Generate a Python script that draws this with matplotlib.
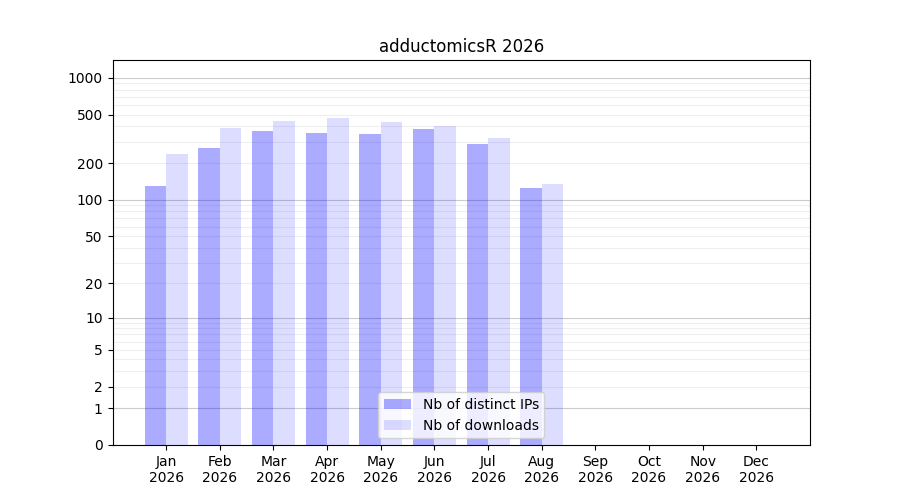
import numpy as np
import matplotlib
matplotlib.use('Agg')
import matplotlib.pyplot as plt


# Dati (mesi senza dati = 0)
mesi = ['Jan', 'Feb', 'Mar', 'Apr', 'May', 'Jun',
        'Jul', 'Aug', 'Sep', 'Oct', 'Nov', 'Dec']
anno = 2026
n_ip = [131, 264, 364, 357, 344, 385, 290, 124, 0, 0, 0, 0]
n_down = [240, 392, 447, 465, 439, 407, 319, 134, 0, 0, 0, 0]

ytick_vals = [0, 1, 2, 5, 10, 20, 50, 100, 200, 500, 1000]


def fwd(v):
    return np.log10(1 + np.clip(v, 0, None))


def inv(y):
    return 10**y - 1


fig, ax = plt.subplots(figsize=(9, 5), dpi=100)
ax.set_yscale('function', functions=(fwd, inv))

x = np.arange(len(mesi))
w = 0.4

# gridlines: decadi piu' scure, intermedie chiare
for dec in [1, 10, 100, 1000]:
    ax.axhline(dec, color='gray', alpha=0.4, lw=0.8, zorder=0)
for dec in [1, 10, 100]:
    for k in range(2, 10):
        ax.axhline(k*dec, color='gray', alpha=0.12, lw=0.8, zorder=0)

ax.bar(x - w/2, n_ip, width=w, color='blue', alpha=0.33,
       label='Nb of distinct IPs', zorder=2)
ax.bar(x + w/2, n_down, width=w, color='blue', alpha=0.135,
       label='Nb of downloads', zorder=2)

ax.set_xlim(-1, 12)
ax.set_ylim(0, 1400)
ax.set_xticks(x)
ax.set_xticklabels(['{}\n{}'.format(m, anno) for m in mesi])
ax.set_yticks(ytick_vals)
ax.set_yticklabels([str(v) for v in ytick_vals])
ax.minorticks_off()

ax.set_title('adductomicsR {}'.format(anno))
ax.legend(loc='lower center')

fig.savefig('out.png', dpi=100)
